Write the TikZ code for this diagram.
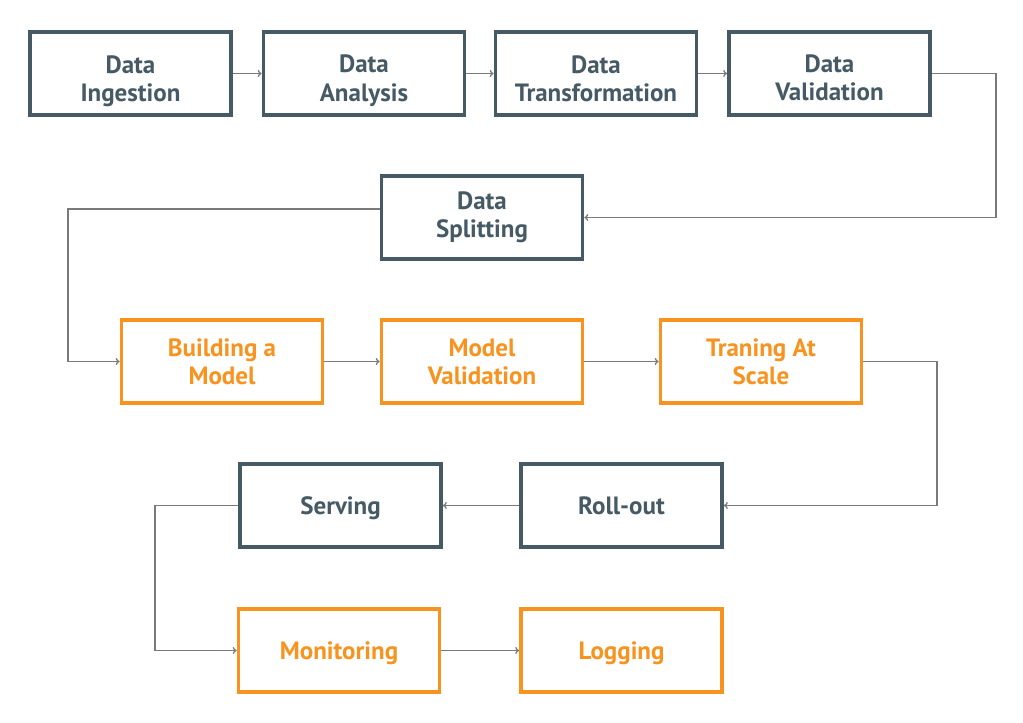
\documentclass[tikz,border=0pt]{standalone}
\usepackage{fontspec}
\setmainfont{PT Sans}
\usetikzlibrary{arrows.meta}
\definecolor{slate}{HTML}{455A64}
\definecolor{orng}{HTML}{F7931E}
\definecolor{conn}{HTML}{7A7A7A}
\begin{document}
\begin{tikzpicture}[x=1pt,y=-1pt,
  box/.style={draw=slate,line width=3.6pt,fill=white,minimum width=201pt,minimum height=83pt,
    align=center,text=slate,font=\fontsize{25}{28.5}\selectfont\bfseries,inner sep=0pt,
    text height=17.5pt,text depth=0pt},
  two/.style={text height=46pt},
  obox/.style={box,draw=orng,text=orng},
  txt/.style={align=center,text=slate,font=\fontsize{25}{28.5}\selectfont\bfseries,inner sep=0pt,
    text height=46pt,text depth=0pt},
  link/.style={draw=conn,line width=1.3pt,-{To[length=4pt,width=7pt]}}]
\useasboundingbox (0,0) rectangle (1023,723);
\node[box] (ing) at (130.5,73.5) {};
\node[box] (ana) at (364,73.5) {};
\node[box] (tra) at (596,73.5) {};
\node[box] (val) at (829.5,73.5) {};
\node[txt] (ingt) at ([yshift=-5pt]ing.center) {Data\\Ingestion};
\node[txt] (anat) at ([yshift=-4.5pt]ana.center) {Data\\Analysis};
\node[txt] (trat) at ([yshift=-5pt]tra.center) {Data\\Transformation};
\node[txt] (valt) at ([yshift=-4pt]val.center) {Data\\Validation};
\node[box,two,text height=40pt] (spl) at (482,217.5) {Data\\Splitting};
\node[obox,two] (bui) at (222,361.5) {Building a\\Model};
\node[obox,two] (mva) at (482,361.5) {Model\\Validation};
\node[obox,two] (tas) at (761,361.5) {Traning At\\Scale};
\node[box] (ser) at (340.5,505.5) {Serving};
\node[box] (rol) at (621.5,505.5) {Roll-out};
\node[obox] (mon) at (339,650.5) {Monitoring};
\node[obox] (log) at (621.5,650.5) {Logging};
\draw[link] (ing) -- (ana);
\draw[link] (ana) -- (tra);
\draw[link] (tra) -- (val);
\draw[link] (val.east) -- (996,73.5) |- (spl.east);
\draw[link] ([yshift=8.5pt]spl.west) -- (68,209) |- (bui.west);
\draw[link] (bui) -- (mva);
\draw[link] (mva) -- (tas);
\draw[link] (tas.east) -- (937,361.5) |- (rol.east);
\draw[link] (rol) -- (ser);
\draw[link] (ser.west) -- (155,505.5) |- (mon.west);
\draw[link] (mon) -- (log);
\end{tikzpicture}
\end{document}
